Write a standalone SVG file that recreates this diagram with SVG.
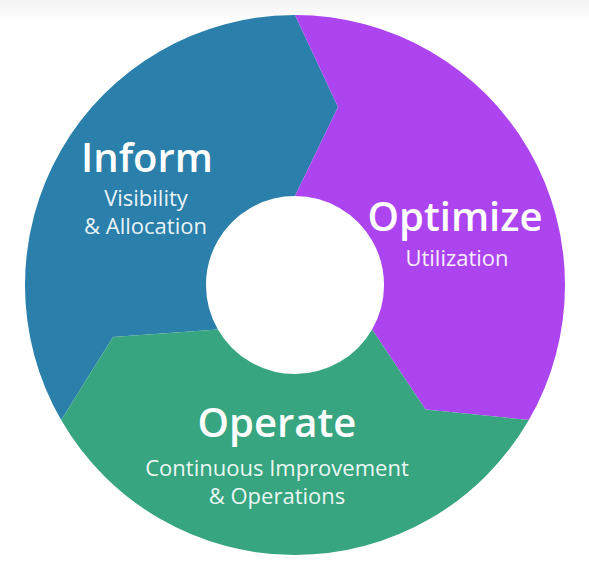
<svg xmlns="http://www.w3.org/2000/svg" width="589" height="568" viewBox="0 0 589 568">
  <defs>
    <linearGradient id="topFade" x1="0" y1="0" x2="0" y2="1">
      <stop offset="0" stop-color="#f3f3f3"/>
      <stop offset="1" stop-color="#ffffff"/>
    </linearGradient>
    <style>
      .seg { stroke: none; }
      .blue { fill: #2a7fab; }
      .purple { fill: #ac45ef; }
      .green { fill: #36a580; }
      .title { font-family: "Open Sans", "Liberation Sans", sans-serif; font-weight: 600; font-size: 40px; fill: #ffffff; text-anchor: middle; }
      .sub { font-family: "Open Sans", "Liberation Sans", sans-serif; font-weight: 400; font-size: 22px; fill: #ffffff; fill-opacity: 0.93; text-anchor: middle; }
    </style>
  </defs>

  <!-- background -->
  <rect width="589" height="568" fill="#ffffff"/>
  <rect width="589" height="22" fill="url(#topFade)"/>

  <!-- ring centred at (295,285): outer r=270, inner r=89; chevron joints between segments -->
  <g id="inform">
    <path class="seg blue" d="M295,15 A270,270 0 0 0 61.17,420 L113,337 L217.9,329.5 A89,89 0 0 1 295,196 L338,107 Z"/>
    <text class="title" x="147" y="172">Inform</text>
    <text class="sub" x="146" y="206">Visibility</text>
    <text class="sub" x="145.5" y="234">&amp; Allocation</text>
  </g>

  <g id="optimize">
    <path class="seg purple" d="M295,15 L338,107 L295,196 A89,89 0 0 1 372.1,329.5 L425.5,409.5 L528.83,420 A270,270 0 0 0 295,15 Z"/>
    <text class="title" x="455" y="231">Optimize</text>
    <text class="sub" x="457" y="266">Utilization</text>
  </g>

  <g id="operate">
    <path class="seg green" d="M528.83,420 L425.5,409.5 L372.1,329.5 A89,89 0 0 1 217.9,329.5 L113,337 L61.17,420 A270,270 0 0 0 528.83,420 Z"/>
    <text class="title" x="277" y="437">Operate</text>
    <text class="sub" x="277" y="476">Continuous Improvement</text>
    <text class="sub" x="277" y="504">&amp; Operations</text>
  </g>
</svg>
